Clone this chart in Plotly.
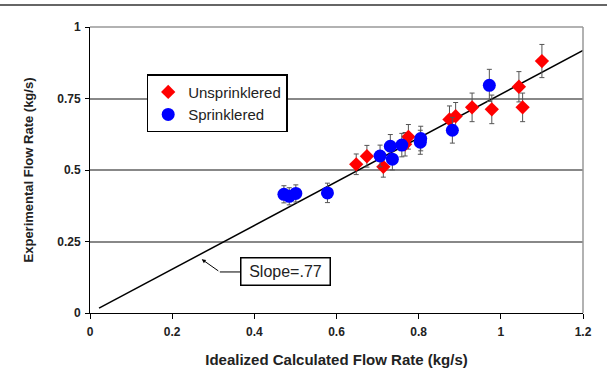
import plotly.graph_objects as go

# Unsprinklered (red diamonds)
uns_x = [1.100, 1.044, 1.053, 0.978, 0.930, 0.890, 0.875, 0.775, 0.767, 0.674, 0.648, 0.714]
uns_y = [0.881, 0.791, 0.719, 0.712, 0.719, 0.688, 0.677, 0.616, 0.590, 0.548, 0.520, 0.511]
uns_err = [0.058, 0.053, 0.050, 0.050, 0.050, 0.048, 0.047, 0.043, 0.041, 0.038, 0.036, 0.036]

# Sprinklered (blue circles)
spr_x = [0.972, 0.882, 0.805, 0.804, 0.759, 0.731, 0.706, 0.736, 0.578, 0.472, 0.485, 0.501]
spr_y = [0.796, 0.639, 0.610, 0.597, 0.587, 0.583, 0.549, 0.538, 0.420, 0.415, 0.408, 0.418]
spr_err = [0.056, 0.045, 0.043, 0.042, 0.041, 0.041, 0.038, 0.038, 0.034, 0.030, 0.030, 0.030]

# Fit line
line_x = [0.022, 1.2]
slope = 0.765
line_y = [slope * v for v in line_x]

x_ticks = [0, 0.2, 0.4, 0.6, 0.8, 1, 1.2]
x_tick_text = ["0", "0.2", "0.4", "0.6", "0.8", "1", "1.2"]
y_ticks = [0, 0.25, 0.5, 0.75, 1]
y_tick_text = ["0", "0.25", "0.5", "0.75", "1"]

font_family = "Liberation Sans, Arial, sans-serif"

fig = go.Figure()
fig.add_trace(go.Scatter(
    x=line_x, y=line_y, mode="lines",
    line=dict(color="black", width=1.5), showlegend=False, hoverinfo="skip"))
fig.add_trace(go.Scatter(
    x=uns_x, y=uns_y, mode="markers", name="Unsprinklered",
    marker=dict(symbol="diamond", size=11, color="#ff0000", line=dict(width=0)),
    error_y=dict(type="data", array=uns_err, color="#555555", thickness=1, width=2.5)))
fig.add_trace(go.Scatter(
    x=spr_x, y=spr_y, mode="markers", name="Sprinklered",
    marker=dict(symbol="circle", size=13, color="#0000ff", line=dict(width=0)),
    error_y=dict(type="data", array=spr_err, color="#555555", thickness=1, width=2.5)))

fig.update_layout(
    width=607, height=379,
    margin=dict(l=90, r=24, t=27, b=66),
    paper_bgcolor="white", plot_bgcolor="white",
    font=dict(family=font_family, color="#222222"),
    legend=dict(
        x=0.115, y=0.835, xanchor="left", yanchor="top",
        bgcolor="white", bordercolor="black", borderwidth=1.5,
        font=dict(size=15, family=font_family, color="#222222"),
        itemwidth=30, tracegroupgap=2),
    xaxis=dict(
        range=[0, 1.2], tickvals=x_ticks, ticktext=x_tick_text,
        showgrid=False, zeroline=False, showline=True, linecolor="black", linewidth=1,
        ticks="outside", ticklen=5, tickcolor="black", ticklabelstandoff=3,
        tickfont=dict(size=12, family=font_family, color="#222222", weight="bold"),
        title=dict(text="<b>Idealized Calculated Flow Rate (kg/s)</b>",
                   font=dict(size=15, family=font_family, color="#222222"), standoff=16)),
    yaxis=dict(
        range=[0, 1], tickvals=y_ticks, ticktext=y_tick_text,
        showgrid=True, gridcolor="#888888", gridwidth=1.5,
        zeroline=False, showline=True, linecolor="black", linewidth=1,
        ticks="outside", ticklen=4, tickcolor="black", ticklabelstandoff=2,
        tickfont=dict(size=12, family=font_family, color="#222222", weight="bold"),
        title=dict(text="<b>Experimental Flow Rate (kg/s)</b>",
                   font=dict(size=13, family=font_family, color="#222222"), standoff=20)),
    shapes=[
        dict(type="line", xref="paper", yref="paper", x0=0, x1=1, y0=1, y1=1,
             line=dict(color="#999999", width=1.5)),
        dict(type="line", xref="paper", yref="paper", x0=1, x1=1, y0=0, y1=1,
             line=dict(color="#999999", width=1.5)),
        dict(type="line", xref="paper", yref="paper", x0=-90/493, x1=1 + 24/493,
             y0=1 + 22/286, y1=1 + 22/286, line=dict(color="#666666", width=2)),
    ],
    annotations=[
        # bent leader: box -> bend point (no head)
        dict(x=0.316, y=0.1435, xref="x", yref="y", text="Slope=.77",
             ax=0.475, ay=0.1435, axref="x", ayref="y",
             showarrow=True, arrowhead=0, arrowwidth=1, arrowcolor="black",
             standoff=0, startstandoff=0,
             font=dict(size=16, family=font_family, color="#222222"),
             bgcolor="white", bordercolor="black", borderwidth=1.5, borderpad=4,
             width=80, height=18),
        # bend point -> line (with head)
        dict(x=0.272, y=0.188, xref="x", yref="y", text="",
             ax=0.316, ay=0.1435, axref="x", ayref="y",
             showarrow=True, arrowhead=2, arrowsize=0.8, arrowwidth=1, arrowcolor="black",
             standoff=0, startstandoff=0),
    ],
)

fig.write_html("out.html")
